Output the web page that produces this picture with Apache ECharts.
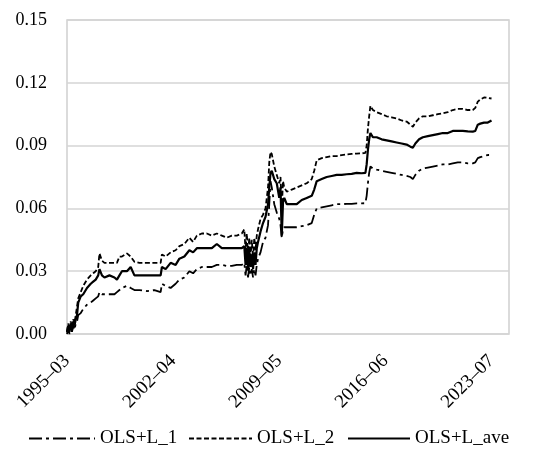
<!DOCTYPE html>
<html>
<head>
<meta charset="utf-8">
<script src="https://cdn.jsdelivr.net/npm/echarts@6/dist/echarts.min.js"></script>
<style>
html,body{margin:0;padding:0;background:#fff;}
#chart{width:547px;height:464px;}
</style>
</head>
<body>
<div id="chart"></div>
<script>
// Sample dates (monthly series, read at these months)
var months = [
'1995-03','1995-04','1995-05','1995-06','1995-07','1995-08','1995-09','1995-10','1995-11','1995-12',
'1996-02','1996-04','1996-07','1996-10','1996-12','1997-02','1997-04','1997-05','1997-07','1997-09',
'1998-01','1998-05','1998-07','1998-09','1998-11','1999-03','1999-06','1999-09','2000-01','2000-07',
'2001-01','2001-06','2001-07','2001-10','2002-02','2002-06','2002-09','2003-01','2003-05','2003-08',
'2003-11','2004-03','2004-07','2004-11','2005-03','2005-07','2005-11','2006-03','2006-07','2006-11',
'2007-01','2007-02','2007-03','2007-04','2007-05','2007-06','2007-07','2007-08','2007-09','2007-10',
'2007-11','2007-12','2008-02','2008-04','2008-06','2008-08','2008-09','2008-10','2008-11','2009-01',
'2009-03','2009-05','2009-06','2009-07','2009-08','2009-09','2009-11','2010-03','2010-07','2010-11',
'2011-03','2011-07','2011-09','2011-11','2012-03','2012-07','2012-11','2013-03','2013-07','2013-11',
'2014-03','2014-07','2014-11','2015-02','2015-03','2015-04','2015-05','2015-06','2015-08','2015-11',
'2016-03','2016-07','2016-11','2017-03','2017-07','2017-11','2018-02','2018-04','2018-06','2018-09',
'2018-12','2019-04','2019-08','2019-12','2020-04','2020-08','2020-12','2021-04','2021-08','2021-12',
'2022-04','2022-06','2022-08','2022-10','2023-01','2023-04','2023-07'
];

var olsL1 = [
0.000,0.003,0.000,0.004,0.001,0.004,0.002,0.005,0.006,0.009,
0.010,0.012,0.014,0.015,0.016,0.017,0.018,0.020,0.019,0.019,
0.019,0.019,0.020,0.021,0.022,0.023,0.022,0.021,0.021,0.0205,
0.021,0.020,0.024,0.023,0.022,0.024,0.026,0.027,0.030,0.029,
0.031,0.032,0.032,0.032,0.033,0.033,0.0325,0.0325,0.033,0.033,
0.034,0.028,0.033,0.027,0.032,0.028,0.031,0.027,0.031,0.028,
0.033,0.036,0.039,0.044,0.046,0.052,0.062,0.073,0.070,0.062,
0.058,0.055,0.052,0.046,0.050,0.051,0.051,0.051,0.051,0.0515,
0.052,0.053,0.057,0.060,0.0605,0.061,0.0615,0.062,0.062,0.0622,
0.0622,0.0624,0.0624,0.0625,0.066,0.072,0.077,0.080,0.079,0.0785,
0.078,0.0775,0.077,0.0765,0.076,0.0755,0.075,0.074,0.076,0.078,
0.079,0.0795,0.080,0.0805,0.081,0.081,0.0815,0.082,0.082,0.0815,
0.0815,0.082,0.084,0.0845,0.085,0.0855,0.0855
];

var olsL2 = [
0.001,0.005,0.002,0.006,0.003,0.007,0.005,0.009,0.013,0.017,
0.020,0.023,0.026,0.028,0.029,0.030,0.032,0.0385,0.035,0.034,
0.034,0.034,0.034,0.037,0.037,0.0385,0.037,0.0345,0.034,0.034,
0.034,0.034,0.038,0.037,0.039,0.040,0.042,0.043,0.046,0.044,
0.047,0.048,0.048,0.047,0.048,0.047,0.046,0.047,0.047,0.048,
0.050,0.040,0.048,0.038,0.046,0.037,0.045,0.036,0.046,0.040,
0.047,0.050,0.055,0.057,0.060,0.070,0.082,0.087,0.086,0.080,
0.076,0.072,0.075,0.060,0.073,0.070,0.068,0.069,0.070,0.071,
0.072,0.074,0.078,0.083,0.084,0.0845,0.085,0.085,0.0855,0.0858,
0.086,0.0862,0.0863,0.0865,0.090,0.098,0.104,0.109,0.107,0.106,
0.105,0.104,0.1035,0.103,0.102,0.1015,0.100,0.099,0.101,0.103,
0.104,0.104,0.1045,0.105,0.1055,0.106,0.107,0.1075,0.1075,0.107,
0.107,0.108,0.111,0.112,0.113,0.1128,0.1125
];

var olsLave = [
0.001,0.004,0.001,0.005,0.002,0.006,0.004,0.007,0.009,0.015,
0.018,0.019,0.022,0.024,0.025,0.026,0.028,0.031,0.028,0.027,
0.028,0.027,0.026,0.028,0.030,0.030,0.032,0.028,0.028,0.028,
0.028,0.028,0.032,0.031,0.034,0.033,0.036,0.037,0.040,0.039,
0.041,0.041,0.041,0.041,0.043,0.041,0.041,0.041,0.041,0.041,
0.042,0.033,0.041,0.031,0.040,0.032,0.038,0.031,0.039,0.033,
0.041,0.044,0.049,0.053,0.056,0.062,0.070,0.077,0.078,0.074,
0.072,0.065,0.070,0.047,0.063,0.065,0.062,0.062,0.062,0.064,
0.065,0.066,0.069,0.073,0.074,0.075,0.0755,0.076,0.076,0.0763,
0.0765,0.077,0.0768,0.077,0.081,0.088,0.093,0.096,0.094,0.094,
0.093,0.0925,0.092,0.0915,0.091,0.0905,0.0895,0.089,0.091,0.093,
0.094,0.0945,0.095,0.0955,0.096,0.096,0.097,0.097,0.097,0.0968,
0.0967,0.097,0.100,0.1005,0.101,0.101,0.102
];

var seriesNames = ['OLS+L_1', 'OLS+L_2', 'OLS+L_ave'];
var axisStart = '1995-03';
var axisEnd = '2024-09';
var labelStepMonths = 85;
var yTicks = [0, 0.03, 0.06, 0.09, 0.12, 0.15];

function monthIndex(s) {
  var p = s.split('-'), q = axisStart.split('-');
  return (parseInt(p[0]) - parseInt(q[0])) * 12 + (parseInt(p[1]) - parseInt(q[1]));
}
function indexToLabel(i) {
  var q = axisStart.split('-');
  var t = parseInt(q[0]) * 12 + parseInt(q[1]) - 1 + Math.round(i);
  var y = Math.floor(t / 12), m = t % 12 + 1;
  return y + '\u2013' + (m < 10 ? '0' + m : '' + m);
}
function pairs(vals) {
  return months.map(function (m, i) { return [monthIndex(m), vals[i]]; });
}

var FONT = 'Liberation Serif';
var chart = echarts.init(document.getElementById('chart'), null, {renderer: 'canvas'});

var styles = [
  {type: [13, 4, 3, 4], width: 1.8},
  {type: [5, 2.5], width: 1.8},
  {type: 'solid', width: 2.2}
];
var data = [olsL1, olsL2, olsLave];

var legendLefts = [28, 188, 347];
var legendWidths = [66, 63, 62];

chart.setOption({
  animation: false,
  backgroundColor: '#fff',
  grid: {
    left: 67, right: 38, top: 20, bottom: 130,
    show: true, borderColor: '#cfcfcf', borderWidth: 1.5,
    containLabel: false
  },
  legend: seriesNames.map(function (n, i) {
    return {
      data: [n],
      left: legendLefts[i],
      top: 429,
      orient: 'horizontal',
      itemWidth: legendWidths[i],
      itemHeight: 14,
      itemStyle: {opacity: 0},
      textStyle: {fontFamily: FONT, fontSize: 19, color: '#000'},
      padding: 0
    };
  }),
  xAxis: {
    type: 'value',
    min: 0,
    max: monthIndex(axisEnd),
    interval: labelStepMonths,
    axisLine: {show: false},
    axisTick: {show: false},
    splitLine: {show: false},
    axisLabel: {
      rotate: 45,
      margin: 24,
      showMaxLabel: false,
      fontFamily: FONT, fontSize: 19, color: '#000',
      formatter: function (v) { return indexToLabel(v); }
    }
  },
  yAxis: {
    type: 'value',
    min: yTicks[0],
    max: yTicks[yTicks.length - 1],
    interval: 0.03,
    axisLine: {show: false},
    axisTick: {show: false},
    splitLine: {lineStyle: {color: '#d4d4d4', width: 1.5}},
    axisLabel: {
      margin: 20,
      fontFamily: FONT, fontSize: 18, color: '#000',
      formatter: function (v) { return v.toFixed(2); }
    }
  },
  series: seriesNames.map(function (n, i) {
    return {
      name: n,
      type: 'line',
      data: pairs(data[i]),
      symbol: 'none',
      showSymbol: false,
      lineStyle: {color: '#000', width: styles[i].width, type: styles[i].type},
      itemStyle: {color: '#000'},
      z: 3 - i
    };
  })
});
</script>
</body>
</html>
